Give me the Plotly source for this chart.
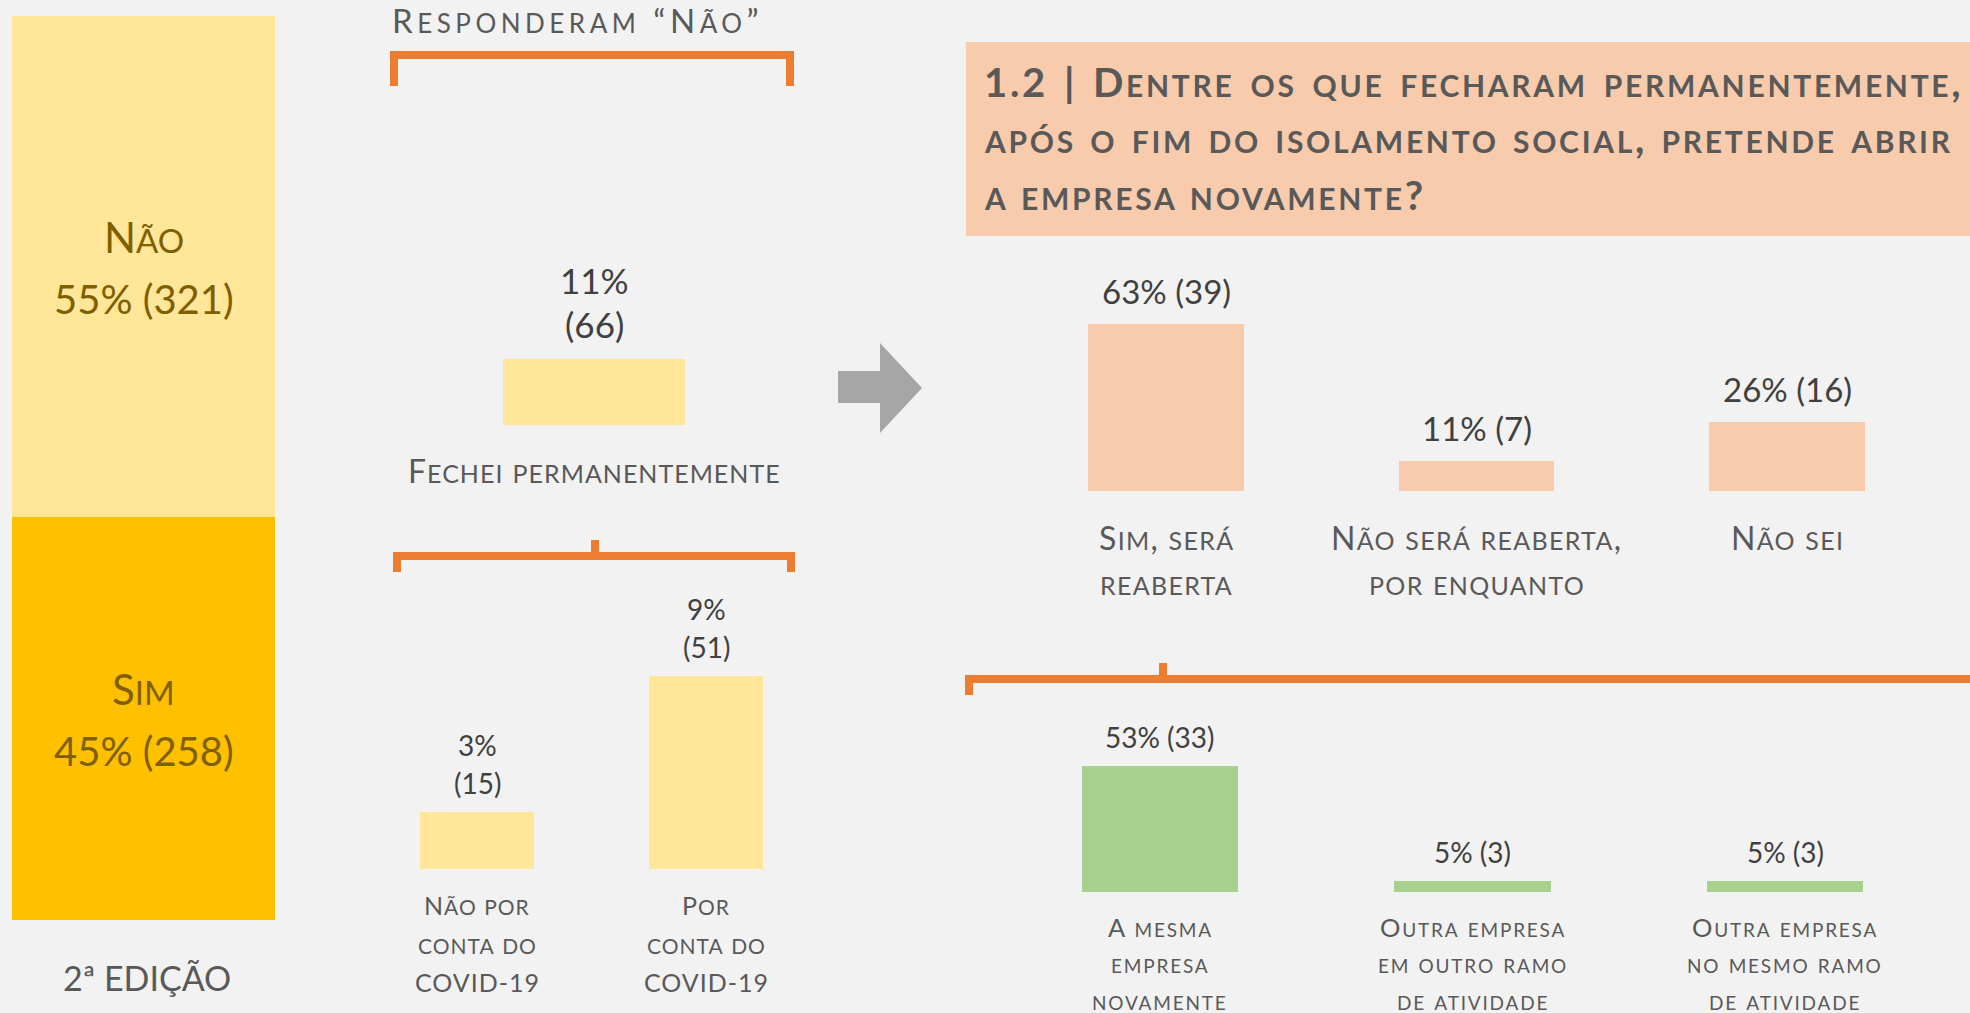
import plotly.graph_objects as go

W, H = 1970, 1013
FONT = "Lato"

# ---------------- data ----------------
q1_labels = ["Sim", "Não"]
q1_counts = [258, 321]
q1_pcts = ["45%", "55%"]

closed_labels = ["Fechei permanentemente"]
closed_counts = [66]
closed_pcts = ["11%"]

reason_labels = ["Não por<br>conta do<br>COVID-19", "Por<br>conta do<br>COVID-19"]
reason_counts = [15, 51]
reason_pcts = ["3%", "9%"]

reopen_labels = ["Sim, será<br>reaberta", "Não será reaberta,<br>por enquanto", "Não sei"]
reopen_counts = [39, 7, 16]
reopen_pcts = ["63%", "11%", "26%"]

which_labels = ["A mesma<br>empresa<br>novamente",
                "Outra empresa<br>em outro ramo<br>de atividade",
                "Outra empresa<br>no mesmo ramo<br>de atividade"]
which_counts = [33, 3, 3]
which_pcts = ["53%", "5%", "5%"]

title_lines = ["1.2 | Dentre os que fecharam permanentemente,",
               "após o fim do isolamento social, pretende abrir",
               "a empresa novamente?"]
subset_title = "Responderam “Não”"
edition_text = "2ª EDIÇÃO"

# ---------------- colours ----------------
C_BG = "#F2F2F2"
C_LIGHT_Y = "#FFE699"
C_GOLD = "#FFC000"
C_OLIVE = "#7F6000"
C_PEACH = "#F8CBAD"
C_GREEN = "#A9D18E"
C_ORANGE = "#ED7D31"
C_ARROW = "#A6A6A6"
C_VAL = "#404040"
C_LAB = "#595959"


def px(x):
    return x / W


def py(y):
    return 1 - y / H


def styled(text, size, ratio=0.78, ls=0.0, ws=0.0):
    """small caps with a chosen lowercase ratio, optional tracking / word spacing"""
    big = size * ratio / 0.7
    out, run = "", ""
    for ch in text:
        if ch.islower():
            run += ch
        else:
            if run:
                out += f'<span style="font-size:{big:.1f}px">{run}</span>'
                run = ""
            out += ch
    if run:
        out += f'<span style="font-size:{big:.1f}px">{run}</span>'
    st = []
    if ls:
        st.append(f"letter-spacing:{ls}px")
    if ws:
        st.append(f"word-spacing:{ws}px")
    if st:
        out = f'<span style="{";".join(st)}">{out}</span>'
    return out


fig = go.Figure()

fig.add_trace(go.Bar(x=[0], y=[q1_counts[0]], width=1, marker=dict(color=C_GOLD, line=dict(width=0)),
                     xaxis="x", yaxis="y", hoverinfo="skip"))
fig.add_trace(go.Bar(x=[0], y=[q1_counts[1]], width=1, marker=dict(color=C_LIGHT_Y, line=dict(width=0)),
                     xaxis="x", yaxis="y", hoverinfo="skip"))
fig.add_trace(go.Bar(x=list(range(len(closed_counts))), y=closed_counts, width=1,
                     marker=dict(color=C_LIGHT_Y, line=dict(width=0)), xaxis="x2", yaxis="y2", hoverinfo="skip"))
fig.add_trace(go.Bar(x=list(range(len(reason_counts))), y=reason_counts, width=0.5,
                     marker=dict(color=C_LIGHT_Y, line=dict(width=0)), xaxis="x3", yaxis="y3", hoverinfo="skip"))
fig.add_trace(go.Bar(x=list(range(len(reopen_counts))), y=reopen_counts, width=0.5,
                     marker=dict(color=C_PEACH, line=dict(width=0)), xaxis="x4", yaxis="y4", hoverinfo="skip"))
fig.add_trace(go.Bar(x=list(range(len(which_counts))), y=which_counts, width=0.5,
                     marker=dict(color=C_GREEN, line=dict(width=0)), xaxis="x5", yaxis="y5", hoverinfo="skip"))


def hidden_axis(domain, rng):
    return dict(domain=domain, range=rng, visible=False, fixedrange=True, showgrid=False, zeroline=False)


def xdom(c_first, c_last, n):
    unit = (c_last - c_first) / (n - 1)
    return [px(c_first - unit / 2), px(c_last + unit / 2)]


layout_axes = dict(
    xaxis=hidden_axis([px(12), px(275)], [-0.5, 0.5]),
    yaxis=hidden_axis([py(920), py(16)], [0, sum(q1_counts)]),
    xaxis2=hidden_axis([px(503), px(685)], [-0.5, len(closed_counts) - 0.5]),
    yaxis2=hidden_axis([py(425), py(359)], [0, max(closed_counts)]),
    xaxis3=hidden_axis(xdom(477, 706, len(reason_counts)), [-0.5, len(reason_counts) - 0.5]),
    yaxis3=hidden_axis([py(869), py(676)], [0, max(reason_counts)]),
    xaxis4=hidden_axis(xdom(1166, 1787, len(reopen_counts)), [-0.5, len(reopen_counts) - 0.5]),
    yaxis4=hidden_axis([py(491), py(324)], [0, max(reopen_counts)]),
    xaxis5=hidden_axis(xdom(1160, 1785, len(which_counts)), [-0.5, len(which_counts) - 0.5]),
    yaxis5=hidden_axis([py(892), py(766)], [0, max(which_counts)]),
)
for k in ["xaxis2", "xaxis3", "xaxis4", "xaxis5"]:
    layout_axes[k]["anchor"] = "y" + k[-1]
for k in ["yaxis2", "yaxis3", "yaxis4", "yaxis5"]:
    layout_axes[k]["anchor"] = "x" + k[-1]

annotations = []


def add_lines(text, x, y, xref, yref, shift, spacing, size, color, variant="small-caps",
              weight="normal", xanchor="center", ratio=None, ls=0.0, ws=0.0):
    parts = text.split("<br>")
    n = len(parts)
    for i, t in enumerate(parts):
        txt = styled(t, size, ratio, ls, ws) if ratio else t
        annotations.append(dict(
            text=txt, x=x, y=y, xref=xref, yref=yref, showarrow=False,
            xanchor=xanchor, yanchor="middle",
            yshift=shift + ((n - 1) / 2 - i) * spacing,
            font=dict(family=FONT, size=size, color=color, variant=variant, weight=weight)))


# A: labels inside the stacked segments
base = 0
for lab, cnt, pct in zip(q1_labels, q1_counts, q1_pcts):
    mid = base + cnt / 2
    add_lines(lab, 0, mid, "x", "y", 32, 0, 42, C_OLIVE, ratio=0.78)
    add_lines(f"{pct} ({cnt})", 0, mid, "x", "y", -32, 0, 40, C_OLIVE, variant="normal")
    base += cnt

# B
for i, (lab, cnt, pct) in enumerate(zip(closed_labels, closed_counts, closed_pcts)):
    add_lines(f"{pct}<br>({cnt})", i, cnt, "x2", "y2", 57, 44, 35, C_VAL, variant="normal")
    add_lines(lab, i, 0, "x2", "y2", -45, 40, 32, C_LAB, ratio=0.78, ls=1.0)
# C
for i, (lab, cnt, pct) in enumerate(zip(reason_labels, reason_counts, reason_pcts)):
    add_lines(f"{pct}<br>({cnt})", i, cnt, "x3", "y3", 48, 38, 28, C_VAL, variant="normal")
    nl = len(lab.split("<br>"))
    add_lines(lab, i, 0, "x3", "y3", -34 - (nl - 1) / 2 * 39.5, 39.5, 25, C_LAB, ratio=0.83, ls=1.0)
# D
for i, (lab, cnt, pct) in enumerate(zip(reopen_labels, reopen_counts, reopen_pcts)):
    add_lines(f"{pct} ({cnt})", i, cnt, "x4", "y4", 33, 0, 33, C_VAL, variant="normal")
    nl = len(lab.split("<br>"))
    add_lines(lab, i, 0, "x4", "y4", -45 - (nl - 1) / 2 * 45, 45, 32, C_LAB, ratio=0.78, ls=1.3)
# E
for i, (lab, cnt, pct) in enumerate(zip(which_labels, which_counts, which_pcts)):
    add_lines(f"{pct} ({cnt})", i, cnt, "x5", "y5", 29, 0, 28, C_VAL, variant="normal")
    nl = len(lab.split("<br>"))
    add_lines(lab, i, 0, "x5", "y5", -34 - (nl - 1) / 2 * 36.5, 36.5, 25.5, C_LAB, ratio=0.74, ls=1.8)

# headings
add_lines(subset_title, px(390), py(19), "paper", "paper", 0, 0, 33, C_LAB, xanchor="left",
          ratio=0.78, ls=4.5)
add_lines(edition_text, px(147), py(977), "paper", "paper", 0, 0, 34, C_LAB, variant="normal")
title_y = [80, 136, 193]
title_ws = [3.5, 2.0, 0]
for i, t in enumerate(title_lines):
    add_lines(t, px(982), py(title_y[i]), "paper", "paper", 0, 0, 40, C_LAB,
              weight="bold", xanchor="left", ratio=0.75, ls=2.7, ws=title_ws[i])


def P(x, y):
    return f"{px(x):.5f},{py(y):.5f}"


shapes = [
    dict(type="rect", xref="paper", yref="paper", x0=px(966), x1=px(1975), y0=py(236), y1=py(42),
         fillcolor=C_PEACH, line=dict(width=0), layer="below"),
    dict(type="path", xref="paper", yref="paper",
         path=f"M{P(838,371)} L{P(880,371)} L{P(880,343)} L{P(922,388)} L{P(880,433)} L{P(880,403)} L{P(838,403)} Z",
         fillcolor=C_ARROW, line=dict(width=0)),
    dict(type="path", xref="paper", yref="paper",
         path=f"M{P(394,86)} L{P(394,55)} L{P(790,55)} L{P(790,86)}",
         fillcolor="rgba(0,0,0,0)", line=dict(color=C_ORANGE, width=8)),
    dict(type="path", xref="paper", yref="paper",
         path=f"M{P(397,572)} L{P(397,556)} L{P(791,556)} L{P(791,572)} M{P(595,556)} L{P(595,540)}",
         fillcolor="rgba(0,0,0,0)", line=dict(color=C_ORANGE, width=8)),
    dict(type="path", xref="paper", yref="paper",
         path=f"M{P(969,695)} L{P(969,679)} L{P(1975,679)} M{P(1163,679)} L{P(1163,663)}",
         fillcolor="rgba(0,0,0,0)", line=dict(color=C_ORANGE, width=8)),
]

fig.update_layout(
    width=W, height=H, margin=dict(l=0, r=0, t=0, b=0, pad=0),
    paper_bgcolor=C_BG, plot_bgcolor="rgba(0,0,0,0)",
    barmode="stack", showlegend=False,
    annotations=annotations, shapes=shapes,
    **layout_axes,
)

fig.write_html("out.html", config={"displayModeBar": False},
               post_script="document.body.style.margin='0';document.body.style.overflow='hidden';")
